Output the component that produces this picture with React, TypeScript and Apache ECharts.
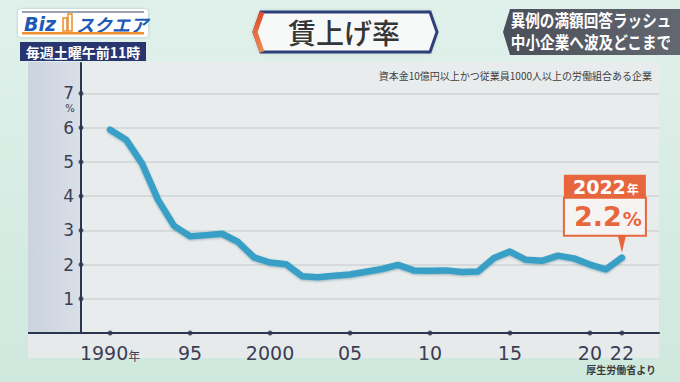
import React, { useEffect, useRef } from 'react';
import * as echarts from 'echarts';

// ---- data ----
const years = [1990, 1991, 1992, 1993, 1994, 1995, 1996, 1997, 1998, 1999, 2000, 2001, 2002, 2003, 2004, 2005, 2006, 2007, 2008, 2009, 2010, 2011, 2012, 2013, 2014, 2015, 2016, 2017, 2018, 2019, 2020, 2021, 2022];
const rates = [5.94, 5.65, 4.95, 3.89, 3.13, 2.83, 2.86, 2.9, 2.66, 2.21, 2.06, 2.01, 1.66, 1.63, 1.67, 1.71, 1.79, 1.87, 1.99, 1.83, 1.82, 1.83, 1.78, 1.8, 2.19, 2.38, 2.14, 2.11, 2.26, 2.18, 2.0, 1.86, 2.2];
const yTickValues = [1, 2, 3, 4, 5, 6, 7];
const xTickYears = [1990, 1995, 2000, 2005, 2010, 2015, 2020, 2022];
const xTickLabels = ['1990年', '95', '2000', '05', '10', '15', '20', '22'];
const highlightYear = 2022;
const highlightValue = 2.2;
const titleText = '賃上げ率';
const subtitleText = '資本金10億円以上かつ従業員1000人以上の労働組合ある企業';
const sourceText = '厚生労働省より';
const headlineLines = ['異例の満額回答ラッシュ', '中小企業へ波及どこまで'];
const programText = '毎週土曜午前11時';

const X_MIN = 1988.18;
const X_MAX = 2024.32;
const Y_MAX = 7.89;

const NAVY = '#2c3550';
const ORANGE = '#e8663d';
const CJK = '"Noto Sans CJK JP", "Noto Sans", sans-serif';
const LATIN = '"DejaVu Sans", "Liberation Sans", sans-serif';

function buildGraphics(p: number[]) {
  const px = p[0];
  const py = p[1];
  return [
    // chart panel pieces
    { type: 'rect', z: -10, shape: { x: 28, y: 62, width: 53, height: 271 },
      style: { fill: new echarts.graphic.LinearGradient(0, 0, 1, 0, [{ offset: 0, color: '#cbd3de' }, { offset: 1, color: '#d9dfe7' }]) } },
    { type: 'rect', z: -10, shape: { x: 81, y: 62, width: 578, height: 271 }, style: { fill: '#e9ecec' } },
    { type: 'rect', z: -10, shape: { x: 28, y: 333, width: 631, height: 25 }, style: { fill: '#e7eaea' } },
    { type: 'line', z: 5, shape: { x1: 28, y1: 333, x2: 82, y2: 333 }, style: { stroke: NAVY, lineWidth: 2 } },
    // logo
    { type: 'rect', z: 5, shape: { x: 18, y: 9, width: 130, height: 28, r: 4 }, style: { fill: '#ffffff', shadowBlur: 3, shadowColor: 'rgba(0,0,0,0.2)' } },
    { type: 'rect', z: 6, shape: { x: 22, y: 11, width: 122, height: 2 }, style: { fill: '#9aa3ad' } },
    { type: 'text', z: 6, x: 24, y: 24, style: { text: 'Biz', font: 'italic bold 19px ' + LATIN, fill: '#1f5bb5', verticalAlign: 'middle', stroke: '#ffffff', lineWidth: 1 } },
    { type: 'rect', z: 6, shape: { x: 63, y: 18, width: 4, height: 13 }, style: { fill: 'none', stroke: '#ee8a2a', lineWidth: 1.5 } },
    { type: 'rect', z: 6, shape: { x: 68, y: 14, width: 4, height: 17 }, style: { fill: 'none', stroke: '#ee8a2a', lineWidth: 1.5 } },
    { type: 'text', z: 6, x: 76, y: 24, style: { text: 'スクエア', font: 'italic bold 18px ' + CJK, fill: '#1f5bb5', verticalAlign: 'middle' } },
    { type: 'rect', z: 6, shape: { x: 22, y: 32, width: 122, height: 2.5 }, style: { fill: '#f09030' } },
    { type: 'rect', z: 5, shape: { x: 20, y: 42, width: 126, height: 19 }, style: { fill: '#28356e' } },
    { type: 'text', z: 6, x: 83, y: 52, style: { text: programText, font: 'bold 14px ' + CJK, fill: '#ffffff', align: 'center', verticalAlign: 'middle' } },
    // title box
    { type: 'polygon', z: 5, shape: { points: [[261, 12], [430, 12], [437, 32], [430, 52], [261, 52], [254, 32]] },
      style: { fill: '#f7f8f8', stroke: '#2d4079', lineWidth: 3, shadowBlur: 3, shadowColor: 'rgba(0,0,0,0.15)' } },
    { type: 'polyline', z: 6, shape: { points: [[262, 12], [255, 32], [262, 52]] },
      style: { stroke: new echarts.graphic.LinearGradient(0, 0, 0, 1, [{ offset: 0, color: '#e04a2a' }, { offset: 1, color: '#f08a50' }]), lineWidth: 5, fill: 'none' } },
    { type: 'text', z: 6, x: 344, y: 32, style: { text: titleText, font: '500 28px ' + CJK, fill: '#353535', align: 'center', verticalAlign: 'middle' } },
    // headline box
    { type: 'polygon', z: 5, shape: { points: [[510, 9], [680, 9], [680, 55], [510, 55], [503, 32]] },
      style: { fill: new echarts.graphic.LinearGradient(0, 0, 1, 0, [{ offset: 0, color: '#4a4f59' }, { offset: 1, color: '#626770' }]) } },
    { type: 'text', z: 6, x: 591, y: 20, scaleX: 0.86, style: { text: headlineLines[0], font: 'bold 17px ' + CJK, fill: '#ffffff', align: 'center', verticalAlign: 'middle' } },
    { type: 'text', z: 6, x: 591, y: 42, scaleX: 0.86, style: { text: headlineLines[1], font: 'bold 17px ' + CJK, fill: '#ffffff', align: 'center', verticalAlign: 'middle' } },
    // texts
    { type: 'text', z: 6, x: 652, y: 75, style: { text: subtitleText, font: '10px ' + CJK, fill: '#3e3e3e', align: 'right', verticalAlign: 'middle' } },
    { type: 'text', z: 6, x: 656, y: 369, style: { text: sourceText, font: 'bold 10px ' + CJK, fill: '#3a3a3a', align: 'right', verticalAlign: 'middle' } },
    { type: 'text', z: 6, x: 70, y: 108, style: { text: '%', font: '10px ' + LATIN, fill: '#3b4054', align: 'center', verticalAlign: 'middle' } },
    // annotation
    { type: 'rect', z: 100, shape: { x: px - 58, y: py - 83, width: 82, height: 23 }, style: { fill: ORANGE } },
    { type: 'rect', z: 100, shape: { x: px - 58, y: py - 60, width: 82, height: 38 }, style: { fill: '#f6f4f2', stroke: ORANGE, lineWidth: 2 } },
    { type: 'polygon', z: 100, shape: { points: [[px - 4, py - 22], [px + 4, py - 22], [px, py - 5]] }, style: { fill: ORANGE } },
    { type: 'text', z: 101, x: px - 16, y: py - 71, style: {
      text: '{a|' + highlightYear + '}{b|年}', align: 'center', verticalAlign: 'middle',
      rich: { a: { font: 'bold 19px ' + LATIN, fill: '#ffffff' }, b: { font: 'bold 12px ' + CJK, fill: '#ffffff', padding: [4, 0, 0, 1] } } } },
    { type: 'text', z: 101, x: px - 14, y: py - 41, style: {
      text: '{a|' + highlightValue + '}{b|%}', align: 'center', verticalAlign: 'middle',
      rich: { a: { font: 'bold 27px ' + LATIN, fill: ORANGE }, b: { font: 'bold 19px ' + LATIN, fill: ORANGE, padding: [5, 0, 0, 1] } } } },
  ];
}

export default function App() {
  const ref = useRef<HTMLDivElement>(null);
  useEffect(() => {
    if (!ref.current) return;
    const chart = echarts.init(ref.current, null, { renderer: 'svg' });
    const lineData = years.map((y, i) => [y, rates[i]]);
    const option: any = {
      animation: false,
      backgroundColor: new echarts.graphic.LinearGradient(0, 0, 0, 1, [
        { offset: 0, color: '#e0f1eb' },
        { offset: 1, color: '#cfe8dd' },
      ]),
      grid: { left: 81, right: 21, top: 63, bottom: 49 },
      xAxis: {
        type: 'value', min: X_MIN, max: X_MAX,
        axisLine: { show: true, lineStyle: { color: NAVY, width: 2 } },
        axisTick: { show: false },
        splitLine: { show: false },
        axisLabel: {
          customValues: xTickYears,
          margin: 10,
          color: '#3b4054',
          fontFamily: LATIN,
          fontSize: 19,
          formatter: (v: number) => {
            const i = xTickYears.indexOf(Math.round(v));
            if (i < 0) return '';
            const lab = xTickLabels[i];
            if (lab.endsWith('年')) return '{a|' + lab.slice(0, -1) + '}{b|年}';
            return lab;
          },
          rich: {
            a: { fontFamily: LATIN, fontSize: 19, color: '#3b4054' },
            b: { fontFamily: CJK, fontSize: 12, color: '#3b4054', padding: [5, 0, 0, 0] },
          },
        },
      },
      yAxis: {
        type: 'value', min: 0, max: Y_MAX, interval: 1,
        axisLine: { show: true, lineStyle: { color: NAVY, width: 2 } },
        axisTick: { show: false },
        splitLine: { show: true, showMinLine: false, showMaxLine: false, lineStyle: { color: '#d0d4d4', width: 1.5 } },
        axisLabel: {
          margin: 7,
          color: '#3b4054',
          fontFamily: LATIN,
          fontSize: 17,
          formatter: (v: number) => (yTickValues.indexOf(v) >= 0 ? String(v) : ''),
        },
      },
      series: [
        {
          type: 'line',
          data: lineData,
          showSymbol: false,
          z: 3,
          lineStyle: { color: '#389fc6', width: 6.5, cap: 'round', join: 'round', shadowColor: 'rgba(20,70,100,0.35)', shadowBlur: 2, shadowOffsetY: 1 },
        },
        {
          type: 'scatter',
          data: yTickValues.map((v) => [X_MIN, v]),
          symbolSize: 5,
          clip: false,
          z: 4,
          itemStyle: { color: NAVY },
        },
        {
          type: 'scatter',
          data: xTickYears.map((y) => [y, 0]),
          symbolSize: 5,
          clip: false,
          z: 4,
          itemStyle: { color: NAVY },
        },
      ],
    };
    chart.setOption(option);
    const p = chart.convertToPixel({ gridIndex: 0 }, [highlightYear, highlightValue]) as number[];
    chart.setOption({ graphic: buildGraphics(p) });
    return () => chart.dispose();
  }, []);
  return <div ref={ref} style={{ position: 'absolute', left: 0, top: 0, width: 680, height: 382 }} />;
}
